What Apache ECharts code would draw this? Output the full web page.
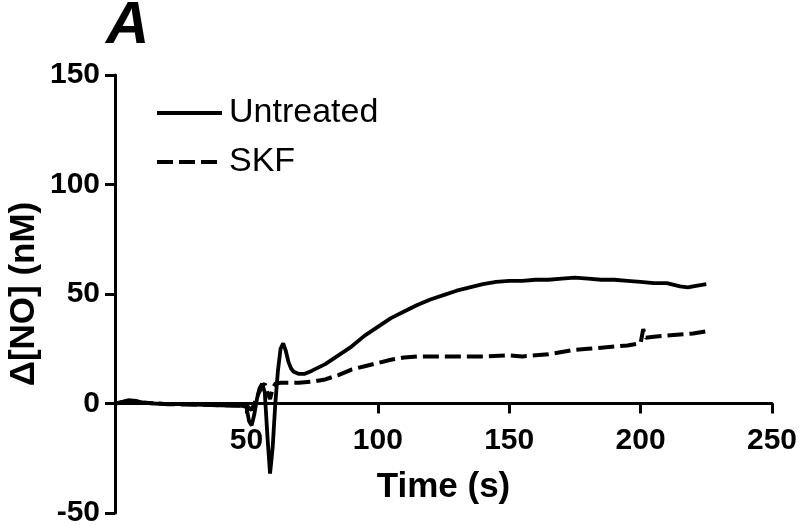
<!DOCTYPE html>
<html>
<head>
<meta charset="utf-8">
<script src="https://cdn.jsdelivr.net/npm/echarts@6/dist/echarts.min.js"></script>
<style>html,body{margin:0;padding:0;background:#fff}#c{width:800px;height:530px}</style>
</head>
<body>
<div id="c"></div>
<script>
var untreatedT = [0,2,5,8,10,15,20,25,30,35,40,45,48,50,51,52,53,54,55,56,57,58,59,60,61,62,63,64,65,66,67,68,70,72,75,80,85,90,95,100,105,110,115,120,125,130,135,140,145,150,155,160,165,170,175,180,185,190,195,200,205,210,215,218,220,225];
var untreatedV = [0,0.5,1.5,1.2,0.5,0,-0.3,-0.2,-0.5,-0.6,-0.8,-1,-1,-1.5,-8,-10,-5,2,7,9,5,-15,-32,-20,0,15,25,27.5,24,19,16,14.5,13.5,13.5,15,18,22,26,31,35,39,42,45,47.5,49.5,51.5,53,54.5,55.5,56,56,56.5,56.5,57,57.5,57,56.5,56.5,56,55.5,55,55,53.5,53,53.5,54.5];
var skfT = [0,5,10,20,30,40,48,50,52,54,56,57,58,59,60,61,63,65,70,75,80,85,90,95,100,105,110,115,120,130,140,150,155,160,165,170,175,180,185,190,195,200,201,202,205,210,215,220,225];
var skfV = [0,1,0.5,-0.3,-0.5,-0.8,-1,-1,-3,3,8,9,5,2,7,9,9.5,9.5,9.5,10,11,13,15.5,17,18.5,20,21,21.5,21.5,21.5,21.5,22,21.5,22,22.5,23.5,24.5,25,25.5,26,26.5,27.5,34,30,30.5,31,31.5,32,33];
var xTicks = [0,50,100,150,200,250];
var yTicks = [-50,0,50,100,150];

function pairs(t, v){ return t.map(function(x,i){return [x, v[i]];}); }

var gridTop = 75, gridBottom = 17, H = 530;
var yMin = -50, yMax = 150;
// pixel distance from grid bottom up to y = 0, so the x axis sits on zero
var zeroOffset = (H - gridTop - gridBottom) * (0 - yMin) / (yMax - yMin);

var chart = echarts.init(document.getElementById('c'), null, {renderer:'canvas'});
var font = 'Liberation Sans, Arial, sans-serif';
chart.setOption({
  animation:false,
  backgroundColor:'#fff',
  title:{ text:'A', left:101, top:-9, textStyle:{fontFamily:font, fontSize:60, fontWeight:'bold', fontStyle:'italic', color:'#000'} },
  grid:{ left:115, right:28, top:gridTop, bottom:gridBottom, containLabel:false, outerBoundsMode:'none' },
  legend:{
    orient:'vertical', left:155, top:96, padding:0, itemWidth:65, itemHeight:18, itemGap:15,
    itemStyle:{color:'rgba(0,0,0,0)', borderColor:'rgba(0,0,0,0)', borderWidth:0, opacity:0},
    lineStyle:{width:4, color:'#000'},
    textStyle:{fontFamily:font, fontSize:34, color:'#000', padding:[0,0,0,2]},
    data:['Untreated','SKF']
  },
  xAxis:{
    type:'value', min:0, max:250, interval:50, position:'bottom', offset:-zeroOffset,
    name:'Time (s)', nameLocation:'middle', nameGap:66, nameMoveOverlap:false,
    nameTextStyle:{fontFamily:font, fontSize:35, fontWeight:'bold', color:'#000'},
    axisLine:{onZero:false, lineStyle:{color:'#000', width:3}},
    axisTick:{show:true, length:10, lineStyle:{color:'#000', width:3}},
    axisLabel:{show:true, hideOverlap:false,
      fontFamily:font, fontSize:30, fontWeight:'bold', color:'#000', margin:22,
      formatter:function(v){return v===0?'':String(v);}},
    splitLine:{show:false}
  },
  yAxis:{
    type:'value', min:yMin, max:yMax, interval:50,
    name:'\u0394[NO] (nM)', nameLocation:'middle', nameGap:73, nameRotate:90, nameMoveOverlap:false,
    nameTextStyle:{fontFamily:font, fontSize:35, fontWeight:'bold', color:'#000'},
    axisLine:{show:true, onZero:false, lineStyle:{color:'#000', width:3}},
    axisTick:{show:true, length:10, lineStyle:{color:'#000', width:3}},
    axisLabel:{fontFamily:font, fontSize:30, fontWeight:'bold', color:'#000', margin:15},
    splitLine:{show:false}
  },
  series:[
    {name:'Untreated', type:'line', data:pairs(untreatedT, untreatedV), symbol:'none', smooth:false,
     lineStyle:{color:'#000', width:3.8}, itemStyle:{color:'#000'}},
    {name:'SKF', type:'line', data:pairs(skfT, skfV), symbol:'none', smooth:false,
     lineStyle:{color:'#000', width:4, type:[16,6]}, itemStyle:{color:'#000'}}
  ]
});
</script>
</body>
</html>
